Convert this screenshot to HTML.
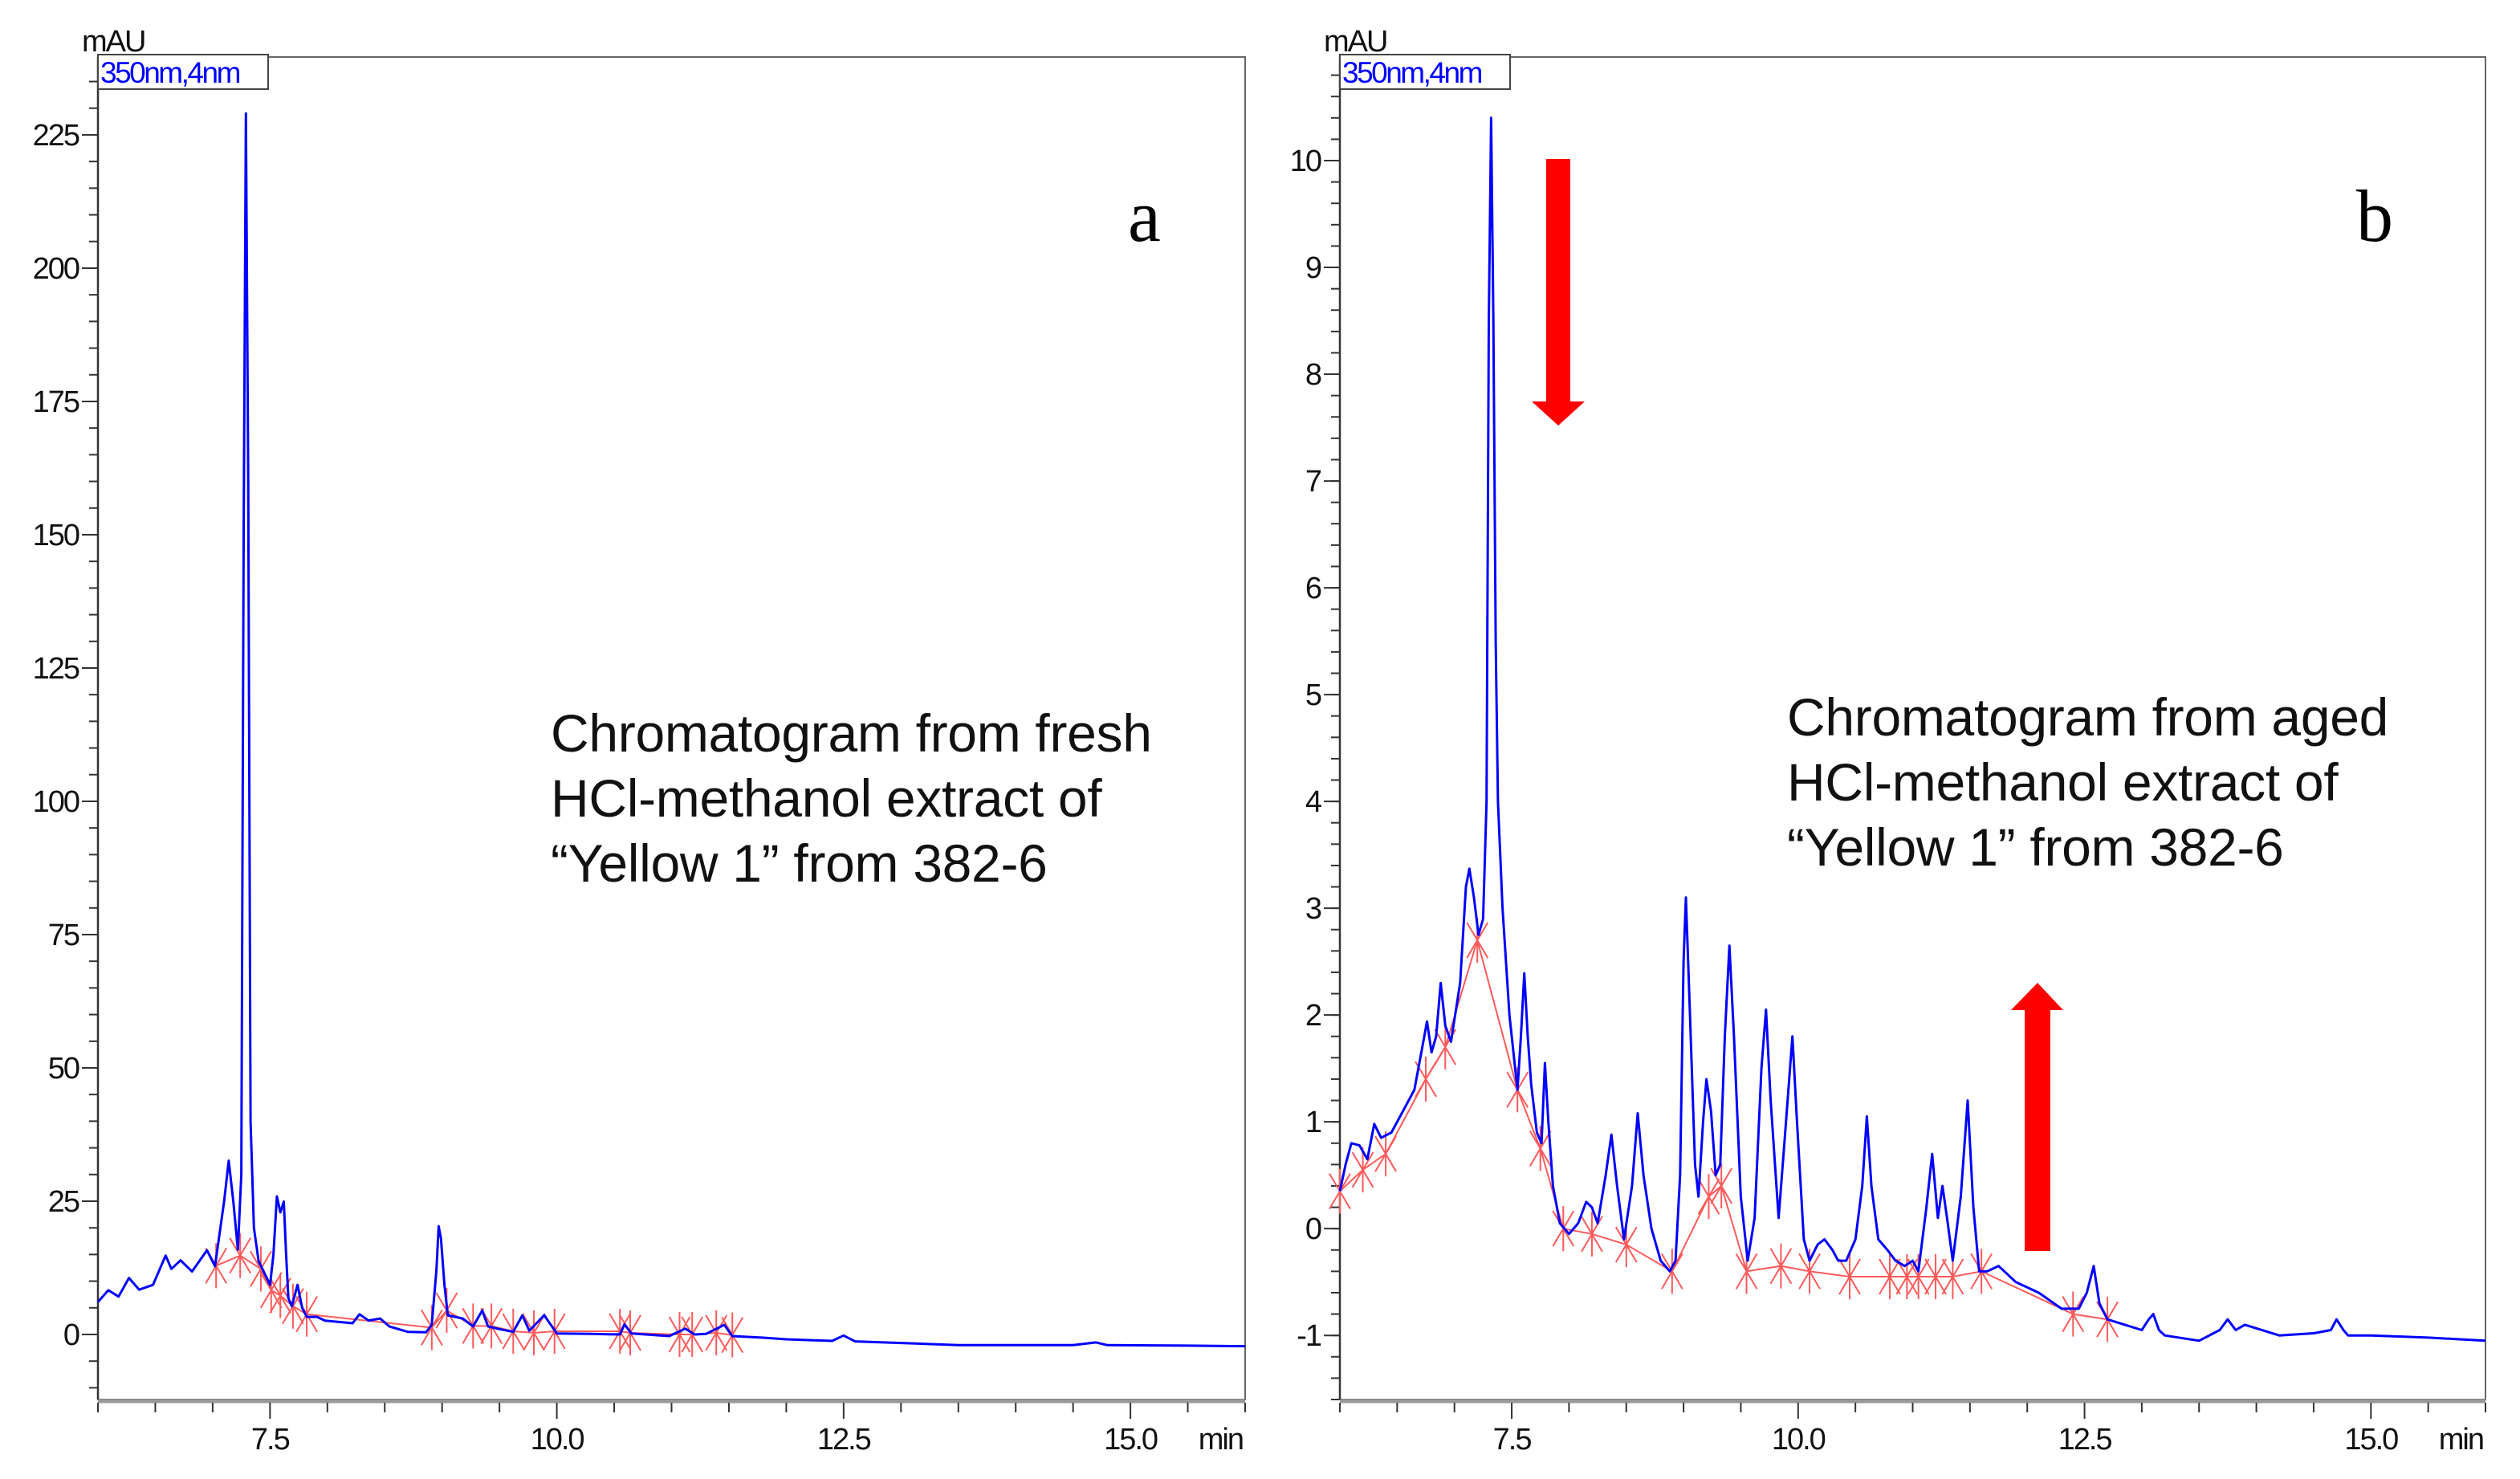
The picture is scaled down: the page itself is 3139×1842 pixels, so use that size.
<!DOCTYPE html>
<html><head><meta charset="utf-8">
<style>
html,body{margin:0;padding:0;background:#fff;}
body{width:3139px;height:1842px;overflow:hidden;position:relative;font-family:"Liberation Sans",sans-serif;}
svg{position:absolute;left:0;top:0;}
</style></head>
<body>
<svg id="fig" width="3139" height="1842" viewBox="0 0 3139 1842" xmlns="http://www.w3.org/2000/svg">
  <g id="panelA"></g>
  <g id="panelB"></g>
  <text x="1405" y="300" font-family="Liberation Serif, serif" font-size="92" fill="#000">a</text>
  <text x="2935" y="300" font-family="Liberation Serif, serif" font-size="92" fill="#000">b</text>
  <g font-family="Liberation Sans, sans-serif" font-size="66" fill="#111" letter-spacing="-0.3">
    <text x="686" y="936">Chromatogram from fresh</text>
    <text x="686" y="1017">HCl-methanol extract of</text>
    <text x="686" y="1098">“Yellow 1” from 382-6</text>
  </g>
  <g font-family="Liberation Sans, sans-serif" font-size="66" fill="#111" letter-spacing="-0.3">
    <text x="2226" y="916">Chromatogram from aged</text>
    <text x="2226" y="997">HCl-methanol extract of</text>
    <text x="2226" y="1078">“Yellow 1” from 382-6</text>
  </g>
  <polygon points="1926,198 1956,198 1956,500 1974,500 1941,530 1908,500 1926,500" fill="#ff0000"/>
  <polygon points="2522,1558 2554,1558 2554,1258 2570,1258 2538,1224 2505,1258 2522,1258" fill="#ff0000"/>
</svg>
<script>
// ---------- data ----------
const xTickLabels = ["7.5","10.0","12.5","15.0"];
const xTickValues = [7.5, 10.0, 12.5, 15.0];
const aYTickValues = [0,25,50,75,100,125,150,175,200,225];
const bYTickValues = [-1,0,1,2,3,4,5,6,7,8,9,10];

const aTimes = [6.0,6.09,6.18,6.27,6.36,6.48,6.59,6.64,6.72,6.82,6.95,7.02,7.1,7.14,7.18,7.22,7.25,7.27,7.29,7.31,7.33,7.36,7.4,7.5,7.53,7.56,7.59,7.62,7.64,7.66,7.69,7.74,7.78,7.82,7.91,7.98,8.22,8.28,8.36,8.46,8.54,8.7,8.86,8.91,8.95,8.97,8.99,9.02,9.05,9.18,9.27,9.35,9.4,9.5,9.62,9.7,9.76,9.89,10.0,10.3,10.55,10.59,10.65,10.98,11.12,11.2,11.3,11.46,11.53,11.8,12.0,12.4,12.5,12.6,13.0,13.5,14.0,14.5,14.7,14.8,15.5,16.0];
const aValues = [6.1,8.3,7.1,10.6,8.4,9.3,14.8,12.3,13.9,11.8,15.8,12.8,25,32.6,25,15.9,30,150,229,160,40,20,13.8,9.3,15,25.9,22.9,24.9,15,6.8,5.3,9.3,5,3.3,3.3,2.6,2.1,3.8,2.6,3.0,1.5,0.5,0.4,1.8,12,20.3,18,9.3,3.6,3.0,1.5,4.5,1.5,1.0,0.5,3.6,0.7,3.6,0.2,0.1,0,1.9,0.2,-0.3,1.1,0.0,0.1,1.8,-0.3,-0.6,-0.9,-1.2,-0.2,-1.3,-1.6,-2.0,-2.0,-2.0,-1.5,-2.0,-2.1,-2.2];
const aMarkTimes = [7.03,7.24,7.42,7.51,7.59,7.70,7.82,8.91,9.04,9.27,9.43,9.62,9.80,9.98,10.55,10.64,11.07,11.18,11.39,11.53];
const aMarkValues = [12.9,14.8,12.3,8.3,7.3,5.3,3.8,1.3,4.5,1.6,1.6,0.6,0.3,0.6,0.6,0.3,0.0,0.0,0.3,-0.1];

const bTimes = [6.0,6.05,6.1,6.17,6.24,6.3,6.36,6.45,6.55,6.65,6.72,6.76,6.8,6.84,6.88,6.92,6.97,7.05,7.1,7.13,7.17,7.21,7.25,7.28,7.3,7.32,7.34,7.36,7.38,7.42,7.48,7.55,7.58,7.61,7.64,7.67,7.72,7.76,7.79,7.82,7.86,7.92,8.0,8.08,8.15,8.2,8.25,8.32,8.37,8.42,8.48,8.55,8.6,8.65,8.72,8.8,8.88,8.93,8.97,9.0,9.02,9.05,9.1,9.13,9.17,9.2,9.24,9.28,9.32,9.36,9.4,9.44,9.5,9.56,9.62,9.68,9.72,9.76,9.83,9.88,9.95,9.99,10.05,10.1,10.17,10.23,10.3,10.35,10.42,10.5,10.56,10.6,10.64,10.7,10.78,10.85,10.93,11.0,11.05,11.12,11.17,11.22,11.26,11.3,11.35,11.42,11.48,11.53,11.58,11.65,11.75,11.9,12.1,12.3,12.45,12.52,12.58,12.63,12.7,13.0,13.06,13.1,13.15,13.2,13.5,13.68,13.75,13.82,13.9,14.2,14.5,14.65,14.7,14.76,14.8,15.0,15.5,16.0];
const bValues = [0.35,0.6,0.8,0.78,0.65,0.98,0.85,0.9,1.1,1.3,1.7,1.94,1.65,1.8,2.3,1.9,1.75,2.3,3.2,3.37,3.1,2.75,2.9,4.0,8.5,10.4,8.5,5.5,4.0,3.0,2.0,1.3,1.8,2.39,1.8,1.35,0.9,0.8,1.55,1.0,0.4,0.05,-0.05,0.05,0.25,0.2,0.05,0.5,0.88,0.4,-0.1,0.4,1.08,0.5,0.0,-0.3,-0.4,-0.3,0.5,2.5,3.1,2.2,0.6,0.3,1.0,1.4,1.1,0.5,0.6,1.8,2.65,1.8,0.3,-0.3,0.1,1.5,2.05,1.2,0.1,0.8,1.8,1.0,-0.1,-0.3,-0.15,-0.1,-0.2,-0.3,-0.3,-0.1,0.4,1.05,0.4,-0.1,-0.2,-0.3,-0.35,-0.3,-0.4,0.2,0.7,0.1,0.4,0.1,-0.3,0.3,1.2,0.2,-0.4,-0.4,-0.35,-0.5,-0.6,-0.75,-0.75,-0.6,-0.35,-0.7,-0.85,-0.95,-0.85,-0.8,-0.95,-1.0,-1.05,-0.95,-0.85,-0.95,-0.9,-1.0,-0.98,-0.95,-0.85,-0.95,-1.0,-1.0,-1.02,-1.05];
const bMarkTimes = [6.0,6.2,6.4,6.75,6.92,7.2,7.55,7.75,7.95,8.2,8.5,8.9,9.22,9.33,9.55,9.85,10.1,10.45,10.8,10.95,11.05,11.2,11.35,11.6,12.4,12.7];
const bMarkValues = [0.35,0.55,0.7,1.4,1.7,2.7,1.3,0.75,0.0,-0.05,-0.15,-0.4,0.3,0.4,-0.4,-0.35,-0.4,-0.45,-0.45,-0.45,-0.45,-0.45,-0.45,-0.4,-0.8,-0.85];

// ---------- drawing ----------
const NS = "http://www.w3.org/2000/svg";
function mk(tag, attrs, parent){
  const e = document.createElementNS(NS, tag);
  for (const k in attrs) e.setAttribute(k, attrs[k]);
  parent.appendChild(e);
  return e;
}
function drawPanel(g, cfg, times, values, mTimes, mValues, yTicks, minorStep, prefix){
  const X = t => cfg.x0 + (t - 6) / 10 * (cfg.x1 - cfg.x0);
  const Y = v => cfg.y1 - (v - cfg.ymin) / (cfg.ymax - cfg.ymin) * (cfg.y1 - cfg.y0);
  const fr = mk('rect', {x:cfg.x0, y:cfg.y0, width:cfg.x1-cfg.x0, height:cfg.y1-cfg.y0, fill:'none', stroke:'#666', 'stroke-width':2}, g);
  
  
  const bl = mk('line', {x1:cfg.x0, y1:cfg.y1+2, x2:cfg.x1, y2:cfg.y1+2, stroke:'#999', 'stroke-width':5}, g);
  
  
  const yl = mk('line', {x1:cfg.x0, y1:cfg.y0, x2:cfg.x0, y2:cfg.y1, stroke:'#333', 'stroke-width':2.5}, g);
  
  
  const yg = mk('g', {stroke:'#333', 'stroke-width':2}, g);
  
  
  const nStart = Math.ceil(cfg.ymin / minorStep), nEnd = Math.floor(cfg.ymax / minorStep);
  for (let n = nStart; n <= nEnd; n++){
    const y = Y(n * minorStep);
    mk('line', {x1:cfg.x0-11, y1:y, x2:cfg.x0, y2:y}, yg);
  }
  const tg = mk('g', {'font-size':38, fill:'#111', 'text-anchor':'end', 'letter-spacing':'-2'}, g);
  
  
  yTicks.forEach(v => {
    const y = Y(v);
    mk('line', {x1:cfg.x0-20, y1:y, x2:cfg.x0, y2:y, stroke:'#333', 'stroke-width':2}, yg);
    const t = mk('text', {x:cfg.x0-24, y:y+13}, tg);
    t.textContent = String(v);
  });
  const xg = mk('g', {stroke:'#333', 'stroke-width':2}, g);
  
  
  for (let n = 12; n <= 32; n++){
    const t = n * 0.5, x = X(t);
    const major = (n % 5 === 0);
    mk('line', {x1:x, y1:cfg.y1+4, x2:x, y2:cfg.y1 + (major ? 24 : 16)}, xg);
  }
  const xl = mk('g', {'font-size':38, fill:'#111', 'text-anchor':'middle', 'letter-spacing':'-2'}, g);
  
  
  xTickValues.forEach((v, i) => {
    const t = mk('text', {x:X(v), y:cfg.y1+62}, xl);
    t.textContent = xTickLabels[i];
  });
  const mn = mk('text', {x:cfg.x1-3, y:cfg.y1+62, 'font-size':38, fill:'#111', 'text-anchor':'end', 'letter-spacing':'-2'}, g);
  
  
  mn.textContent = 'min';
  const mau = mk('text', {x:cfg.x0-20, y:cfg.y0-7, 'font-size':38, fill:'#111', 'letter-spacing':'-2'}, g);
  
  
  mau.textContent = 'mAU';
  const lb = mk('rect', {x:cfg.x0, y:cfg.y0-3, width:212, height:43, fill:'#fff', stroke:'#444', 'stroke-width':2}, g);
  
  
  const lt = mk('text', {x:cfg.x0+3, y:cfg.y0+32, 'font-size':37, fill:'#0000ff', 'letter-spacing':'-2.5'}, g);
  
  
  lt.textContent = '350nm,4nm';
  const rg = mk('g', {stroke:'#ff5a5a', 'stroke-width':2, fill:'none'}, g);
  
  
  const pts = mTimes.map((t, i) => X(t).toFixed(1) + ',' + Y(mValues[i]).toFixed(1)).join(' ');
  const bp = mk('polyline', {points:pts}, rg);
  
  
  mTimes.forEach((t, i) => {
    const x = X(t), y = Y(mValues[i]);
    const m = mk('path', {d:`M${x},${y-28}L${x},${y+28}M${x-13},${y-22}L${x+13},${y+22}M${x+13},${y-22}L${x-13},${y+22}`}, rg);
    
    
  });
  const tp = times.map((t, i) => X(t).toFixed(1) + ',' + Y(values[i]).toFixed(1)).join(' ');
  const tr = mk('polyline', {points:tp, fill:'none', stroke:'#0000ff', 'stroke-width':3, 'stroke-linejoin':'round'}, g);
  
  
}
drawPanel(document.getElementById('panelA'), {x0:122, x1:1551, y0:71, y1:1743, ymin:-12.2, ymax:239.6}, aTimes, aValues, aMarkTimes, aMarkValues, aYTickValues, 5, 'panel-a');
drawPanel(document.getElementById('panelB'), {x0:1669, x1:3096, y0:71, y1:1743, ymin:-1.6, ymax:10.97}, bTimes, bValues, bMarkTimes, bMarkValues, bYTickValues, 0.2, 'panel-b');
</script>
</body></html>
